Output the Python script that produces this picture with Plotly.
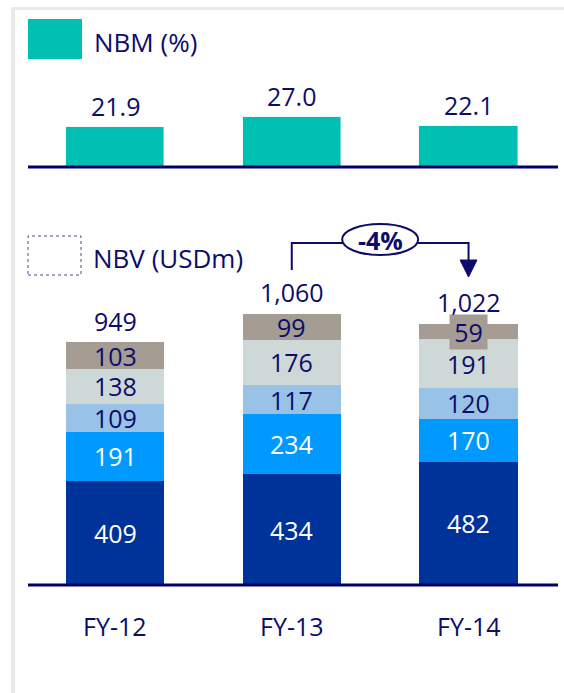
import plotly.graph_objects as go

# data
years = ["FY-12", "FY-13", "FY-14"]
nbm = [21.9, 27.0, 22.1]
seg_names = ["s1", "s2", "s3", "s4", "s5"]
nbv_s1 = [409, 434, 482]
nbv_s2 = [191, 234, 170]
nbv_s3 = [109, 117, 120]
nbv_s4 = [138, 176, 191]
nbv_s5 = [103, 99, 59]
nbv_total = [949, 1060, 1022]
change_label = "-4%"

NAVY = "#0C0C6B"
TEAL = "#00BFB3"
seg_colors = ["#003399", "#0099FF", "#99C3E6", "#CED8D7", "#A59C94"]
seg_text = ["white", "white", NAVY, NAVY, NAVY]
FONT = "Open Sans"
FS = 25

W, H = 564, 693


def py(p):
    # pixel row -> paper y
    return 1 - p / H


def px(p):
    return p / W


x = [0, 1, 2]
fig = go.Figure()

fig.add_trace(go.Bar(x=x, y=nbm, yaxis="y2", marker_color=TEAL, width=0.555,
                     showlegend=False, hoverinfo="skip"))

segments = [nbv_s1, nbv_s2, nbv_s3, nbv_s4, nbv_s5]
for name, vals, col in zip(seg_names, segments, seg_colors):
    fig.add_trace(go.Bar(x=x, y=vals, name=name, marker_color=col, width=0.555,
                         marker_line_width=0, showlegend=False, hoverinfo="skip"))

ann = []
# segment labels
for i in range(3):
    base = 0
    for k, vals in enumerate(segments):
        v = vals[i]
        small = k == 4 and v < 70
        txt = f"\u2009{v}\u2009" if small else str(v)
        ann.append(dict(x=i, y=base + v / 2, xref="x", yref="y", text=txt,
                        showarrow=False, font=dict(size=FS, color=seg_text[k]),
                        bgcolor=seg_colors[4] if small else None,
                        borderpad=0))
        base += v
    ann.append(dict(x=i, y=nbv_total[i], xref="x", yref="y", text=f"{nbv_total[i]:,}",
                    showarrow=False, yanchor="bottom", yshift=3,
                    font=dict(size=FS, color=NAVY)))
    ann.append(dict(x=i, y=nbm[i], xref="x", yref="y2", text=f"{nbm[i]:.1f}",
                    showarrow=False, yanchor="bottom", yshift=2,
                    font=dict(size=FS, color=NAVY)))
    ann.append(dict(x=i, y=py(626), xref="x", yref="paper", text=years[i],
                    showarrow=False, yanchor="middle", font=dict(size=FS, color=NAVY)))

ann.append(dict(x=px(92), y=py(42), xref="paper", yref="paper", text="NBM (%)",
                showarrow=False, xanchor="left", yanchor="middle",
                font=dict(size=FS + 1, color=NAVY)))
ann.append(dict(x=px(91), y=py(258), xref="paper", yref="paper", text="NBV (USDm)",
                showarrow=False, xanchor="left", yanchor="middle",
                font=dict(size=FS + 1, color=NAVY)))
ann.append(dict(x=1.5, y=py(240), xref="x", yref="paper", text=f"<b>{change_label}</b>",
                showarrow=False, yanchor="middle", font=dict(size=FS, color=NAVY)))

shapes = [
    # frame
    dict(type="line", xref="paper", yref="paper", x0=px(12), x1=1, y0=py(8.5), y1=py(8.5),
         line=dict(color="#E6EAE9", width=3)),
    dict(type="line", xref="paper", yref="paper", x0=px(13), x1=px(13), y0=py(8), y1=0,
         line=dict(color="#E6EAE9", width=4)),
    # baselines
    dict(type="line", xref="paper", yref="y2", x0=px(28), x1=px(558), y0=0, y1=0,
         line=dict(color="#000066", width=3)),
    dict(type="line", xref="paper", yref="y", x0=px(28), x1=px(558), y0=0, y1=0,
         line=dict(color="#000066", width=3)),
    # legend swatches
    dict(type="rect", xref="paper", yref="paper", x0=px(28), x1=px(82), y0=py(59), y1=py(19),
         fillcolor=TEAL, line_width=0),
    dict(type="rect", xref="paper", yref="paper", x0=px(28), x1=px(81), y0=py(275), y1=py(236),
         fillcolor="white", line=dict(color="#4A4A8A", width=1, dash="dot")),
    # change connector
    dict(type="path", xref="x", yref="paper",
         path=f"M 1 {py(270)} L 1 {py(243)} L 2 {py(243)} L 2 {py(262)}",
         line=dict(color=NAVY, width=2)),
    dict(type="path", xref="x", yref="paper",
         path=f"M 1.952 {py(260)} L 2.048 {py(260)} L 2 {py(277)} Z",
         fillcolor=NAVY, line=dict(color=NAVY, width=1)),
    dict(type="circle", xref="x", yref="paper", x0=1.285, x1=1.715, y0=py(255), y1=py(224),
         fillcolor="white", line=dict(color=NAVY, width=2)),
]

fig.update_layout(
    width=W, height=H, margin=dict(l=0, r=0, t=0, b=0),
    paper_bgcolor="white", plot_bgcolor="white",
    barmode="stack", bargap=0,
    font=dict(family=FONT, color=NAVY),
    xaxis=dict(range=[-0.6506, 2.540], visible=False, fixedrange=True),
    yaxis=dict(range=[-423.0, 2291.4], visible=False),
    yaxis2=dict(range=[-285.9, 90.76], visible=False, overlaying="y"),
    annotations=ann, shapes=shapes,
)

fig.write_html("out.html", config={"displayModeBar": False},
               post_script="document.body.style.margin='0';")
